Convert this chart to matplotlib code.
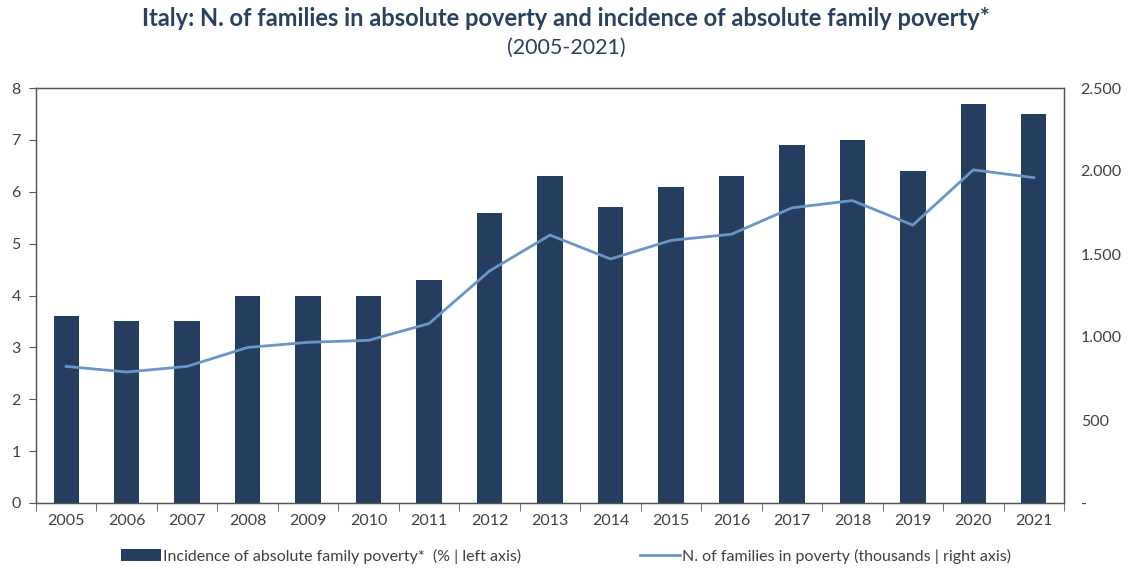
import matplotlib
matplotlib.use("Agg")
import matplotlib.pyplot as plt
from matplotlib.lines import Line2D
from matplotlib.patches import Patch
from matplotlib.ticker import FixedLocator

years = ["2005", "2006", "2007", "2008", "2009", "2010", "2011", "2012", "2013",
         "2014", "2015", "2016", "2017", "2018", "2019", "2020", "2021"]
incidence = [3.6, 3.5, 3.5, 4.0, 4.0, 4.0, 4.3, 5.6, 6.3, 5.7, 6.1, 6.3, 6.9, 7.0, 6.4, 7.7, 7.5]
families = [823, 789, 823, 937, 968, 980, 1081, 1398, 1614, 1470, 1582, 1619, 1778, 1822, 1674, 2007, 1960]
right_ticks = [0, 500, 1000, 1500, 2000, 2500]
right_labels = ["-", "500", "1.000", "1.500", "2.000", "2.500"]

plt.rcParams['font.family'] = ['Lato', 'DejaVu Sans']
bar_color = "#253E60"
line_color = "#6A95C7"
text_color = "#404040"
title_color = "#2B3F5E"

fig = plt.figure(figsize=(11.32, 5.69), dpi=100)
ax = fig.add_axes([36/1132, 1-503/569, (1064-36)/1132, (503-88)/569])
x = list(range(len(years)))
ax.bar(x, incidence, width=0.42, color=bar_color, zorder=2)
ax.set_xlim(-0.5, len(years)-0.5)
ax.set_ylim(0, 8)
ax.set_yticks(range(0, 9))
ax.set_xticks(x)
ax.set_xticklabels(years)
ax.xaxis.set_minor_locator(FixedLocator([i-0.5 for i in range(len(years)+1)]))
ax.tick_params(axis='x', which='major', length=0, pad=8, labelsize=11.5, labelcolor=text_color)
ax.tick_params(axis='x', which='minor', length=6, direction='out', color='#555555')
ax.tick_params(axis='y', length=5, direction='out', labelsize=11.5, labelcolor=text_color, color='#555555', pad=6)
for s in ax.spines.values():
    s.set_color('#555555')
    s.set_linewidth(1.0)

ax2 = ax.twinx()
ax2.plot(x, families, color=line_color, linewidth=2, zorder=3)
ax2.set_ylim(0, 2500)
ax2.set_yticks(right_ticks)
ax2.set_yticklabels(right_labels)
ax2.tick_params(axis='y', length=0, labelsize=11.5, labelcolor=text_color, pad=12)
for s in ax2.spines.values():
    s.set_color('#555555')

fig.text(0.5, 1-18/569, "Italy: N. of families in absolute poverty and incidence of absolute family poverty*",
         ha='center', va='center', fontsize=17, fontweight='bold', color=title_color)
fig.text(0.5, 1-48/569, "(2005-2021)", ha='center', va='center', fontsize=15.5, color=title_color)

handles = [Patch(facecolor=bar_color, edgecolor='none'),
           Line2D([0], [0], color=line_color, linewidth=2)]
labels = ["Incidence of absolute family poverty*  (% | left axis)",
          "N. of families in poverty (thousands | right axis)"]
fig.legend(handles, labels, loc='center', bbox_to_anchor=(0.5, 1-556/569), ncol=2, frameon=False,
           fontsize=11.5, labelcolor=text_color, columnspacing=7.5, handlelength=2.5, handletextpad=0.1)

fig.savefig("out.png", dpi=100)
